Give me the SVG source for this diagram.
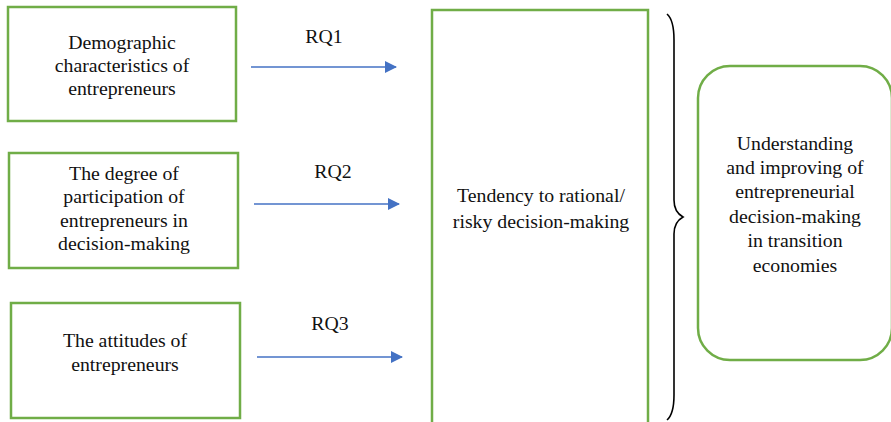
<svg xmlns="http://www.w3.org/2000/svg" width="891" height="422" viewBox="0 0 891 422">
<style>
.box{fill:#fff;stroke:#70ad47;stroke-width:2.5}
text{font-family:'Liberation Serif','Times New Roman',serif;font-size:19.8px;fill:#111;text-anchor:middle}
.arr{stroke:#4472c4;stroke-width:1.3;fill:none}
</style>
<defs>
<marker id="ah" markerWidth="12" markerHeight="12" refX="11" refY="6" orient="auto" markerUnits="userSpaceOnUse">
<path d="M0,0 L12,6 L0,12 Z" fill="#4472c4"/>
</marker>
</defs>
<rect width="891" height="422" fill="#fff"/>
<g id="n1">
<rect class="box" x="8" y="7" width="228" height="114"/>
<text x="122" y="49">Demographic</text>
<text x="122" y="72">characteristics of</text>
<text x="122" y="95">entrepreneurs</text>
</g>
<g id="n2">
<rect class="box" x="9" y="153" width="229" height="115"/>
<text x="124" y="180">The degree of</text>
<text x="124" y="203">participation of</text>
<text x="124" y="227">entrepreneurs in</text>
<text x="124" y="250">decision-making</text>
</g>
<g id="n3">
<rect class="box" x="11" y="303" width="229" height="115"/>
<text x="125" y="347">The attitudes of</text>
<text x="125" y="371">entrepreneurs</text>
</g>
<g id="n4">
<rect class="box" x="432" y="10" width="216" height="420"/>
<text x="541" y="202">Tendency to rational/</text>
<text x="541" y="228">risky decision-making</text>
</g>
<g id="n5">
<rect class="box" x="698" y="66" width="194" height="294" rx="32" ry="32"/>
<text x="795" y="150">Understanding</text>
<text x="795" y="174">and improving of</text>
<text x="795" y="198">entrepreneurial</text>
<text x="795" y="223">decision-making</text>
<text x="795" y="247">in transition</text>
<text x="795" y="272">economies</text>
</g>
<g id="connectors">
<line class="arr" x1="251" y1="67" x2="396" y2="67" marker-end="url(#ah)"/>
<line class="arr" x1="254" y1="204" x2="399" y2="204" marker-end="url(#ah)"/>
<line class="arr" x1="257" y1="357" x2="402" y2="357" marker-end="url(#ah)"/>
<text x="324" y="43">RQ1</text>
<text x="333" y="178">RQ2</text>
<text x="330" y="330">RQ3</text>
<path d="M667,14 Q674,20 674,40 L674,200 Q674,212 683,217 Q674,222 674,234 L674,395 Q674,414 667,420" fill="none" stroke="#000" stroke-width="1.6"/>
</g>
</svg>
